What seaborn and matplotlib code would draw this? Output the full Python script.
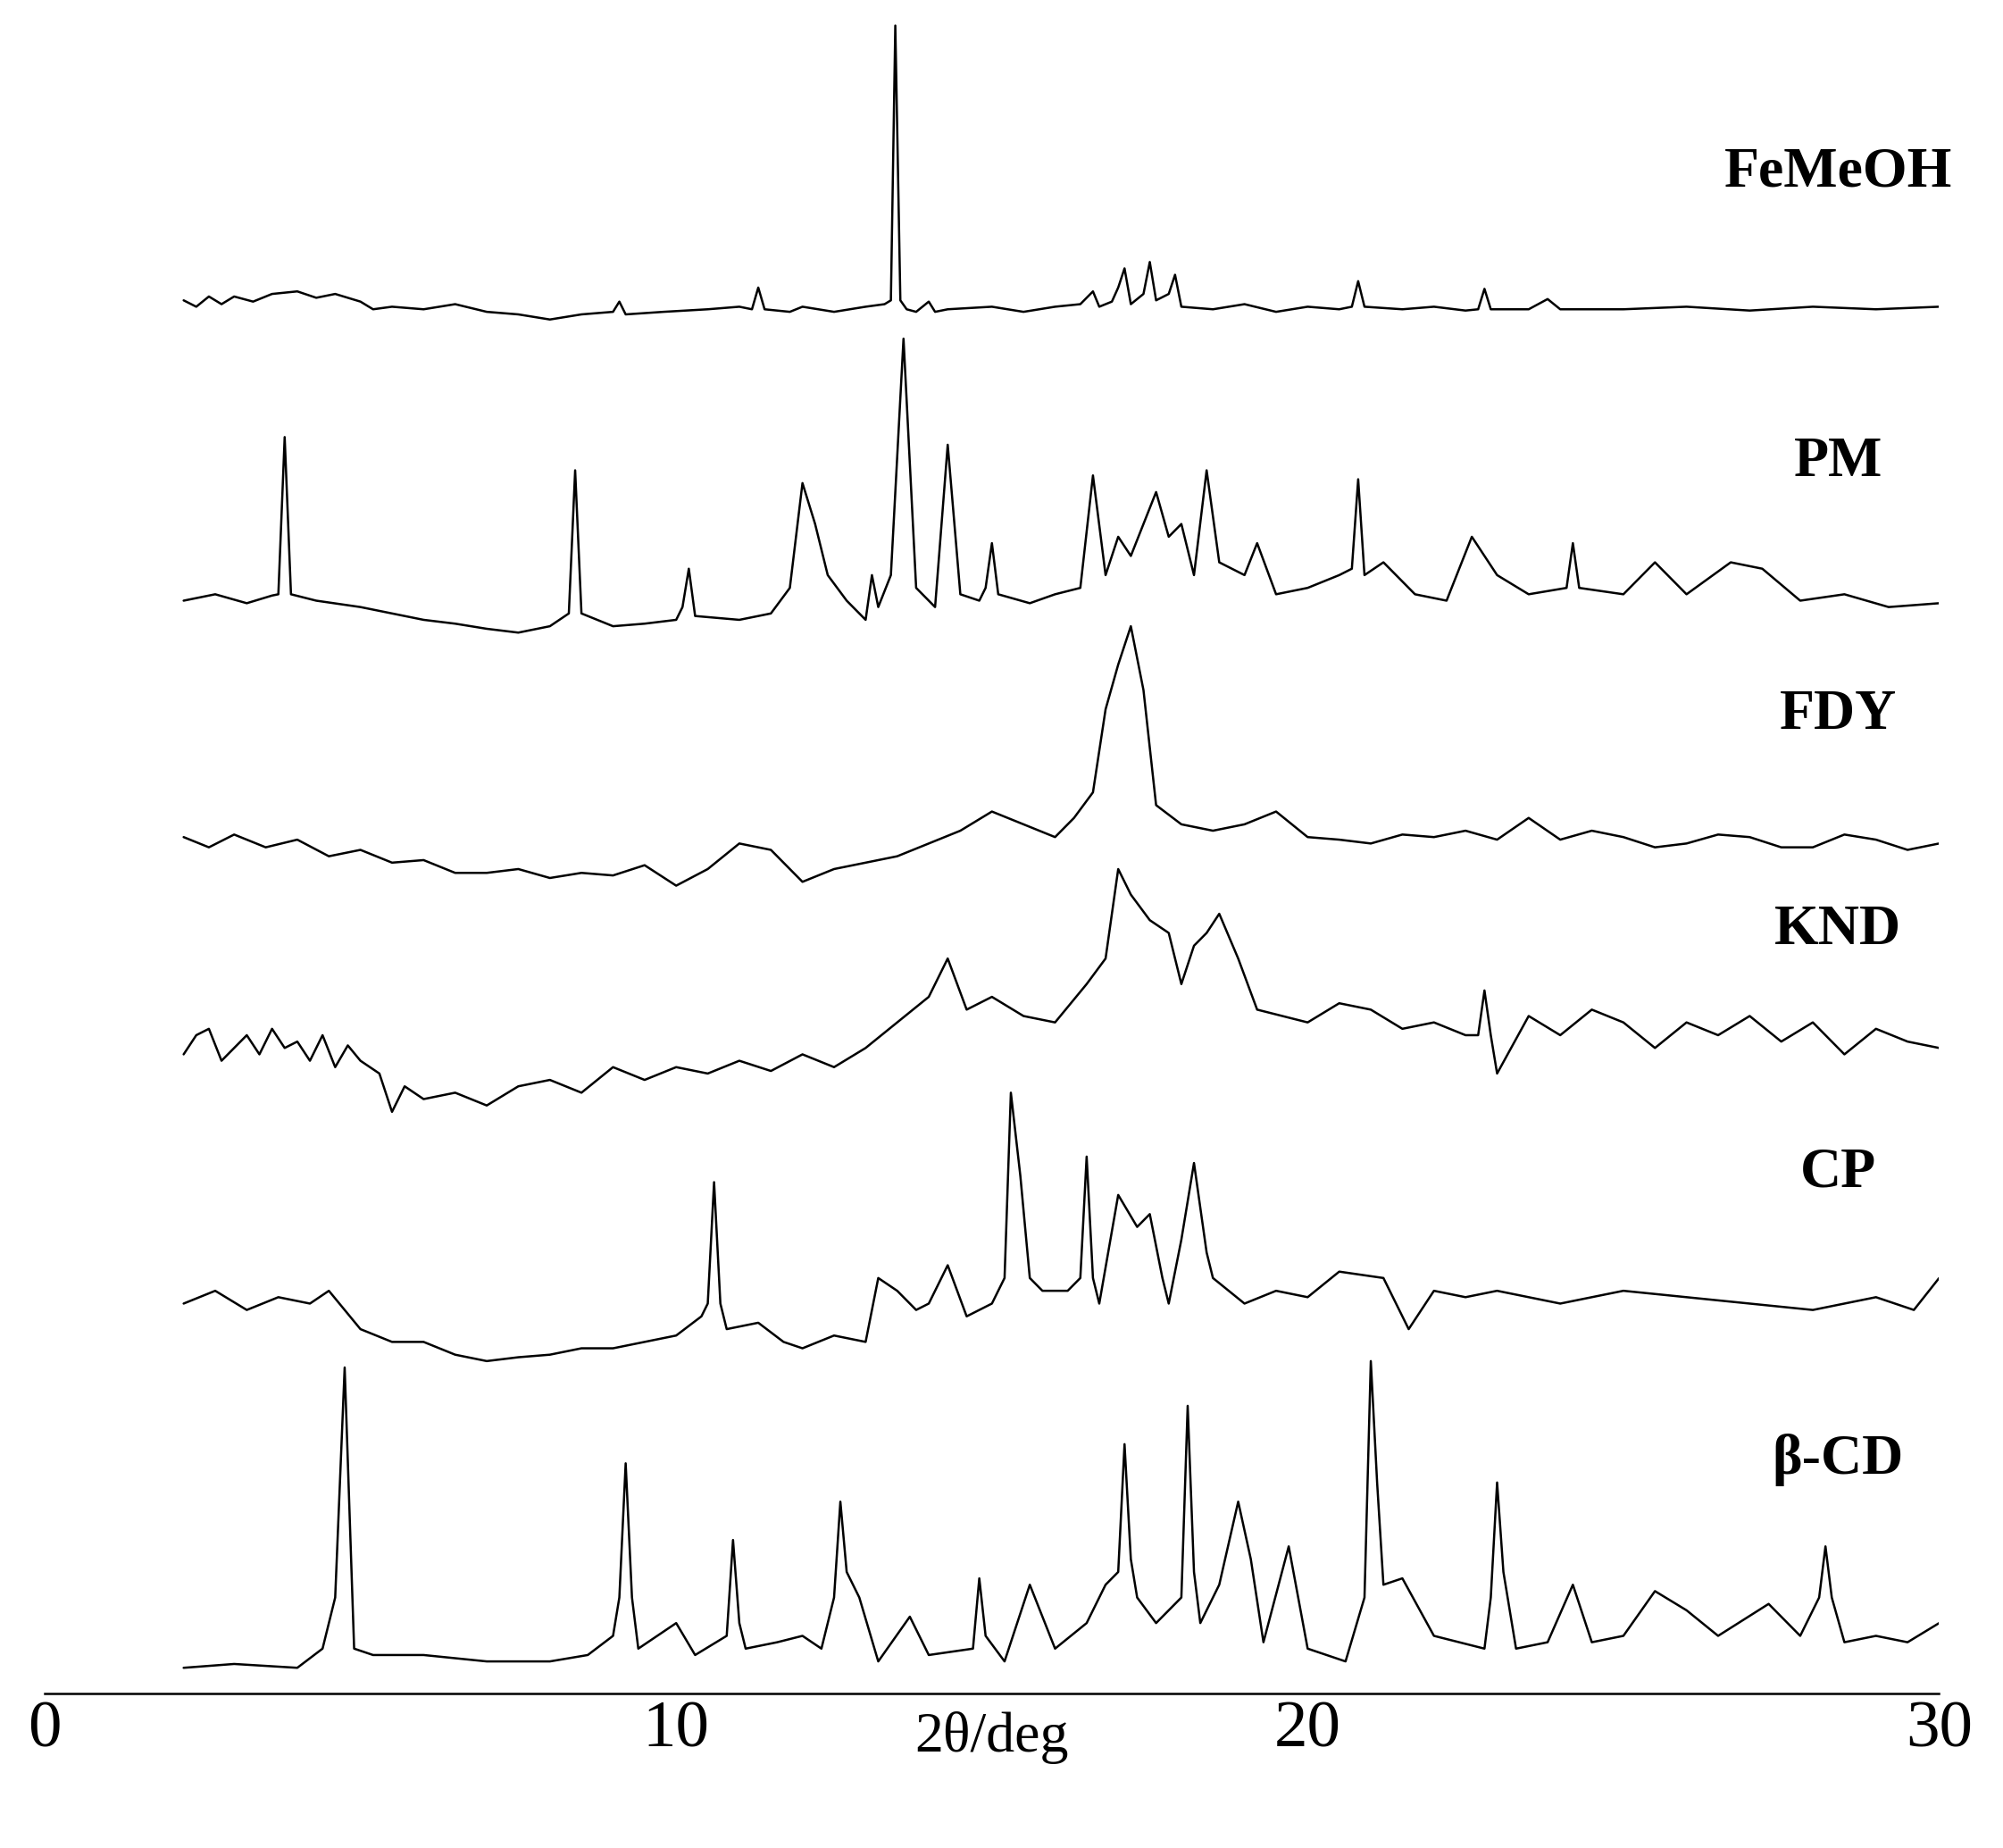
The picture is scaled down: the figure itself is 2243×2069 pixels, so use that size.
import numpy as np
import pandas as pd
import matplotlib
matplotlib.use("Agg")
import matplotlib.pyplot as plt
import seaborn as sns

# Trace data: 2-theta (deg) and height above each trace's baseline
names = ["FeMeOH", "PM", "FDY", "KND", "CP", "β-CD"]

feme_x = [2.2, 2.4, 2.6, 2.8, 3.0, 3.3, 3.6, 4.0, 4.3, 4.6, 5.0, 5.2, 5.5, 6.0, 6.5, 7.0, 7.5, 8.0, 8.5,
          9.0, 9.1, 9.2, 9.8, 10.5, 11.0, 11.2, 11.3, 11.4, 11.8, 12.0, 12.5, 13.0, 13.3, 13.4, 13.47, 13.55,
          13.65, 13.8, 14.0, 14.1, 14.3, 15.0, 15.5, 16.0, 16.4, 16.6, 16.7, 16.9, 17.0, 17.1, 17.2, 17.4,
          17.5, 17.6, 17.8, 17.9, 18.0, 18.5, 19.0, 19.5, 20.0, 20.5, 20.7, 20.8, 20.9, 21.5, 22.0, 22.5,
          22.7, 22.8, 22.9, 23.5, 23.8, 24.0, 25.0, 26.0, 27.0, 28.0, 29.0, 30.0]
feme_y = [15, 10, 18, 12, 18, 14, 20, 22, 17, 20, 14, 8, 10, 8, 12, 6, 4, 0, 4,
          6, 14, 4, 6, 8, 10, 8, 25, 8, 6, 10, 6, 10, 12, 15, 230, 15,
          8, 6, 14, 6, 8, 10, 6, 10, 12, 22, 10, 14, 25, 40, 12, 20,
          45, 15, 20, 35, 10, 8, 12, 6, 10, 8, 10, 30, 10, 8, 10, 7,
          8, 24, 8, 8, 16, 8, 8, 10, 7, 10, 8, 10]

pm_x = [2.2, 2.7, 3.2, 3.6, 3.7, 3.8, 3.9, 4.3, 5.0, 5.5, 6.0, 6.5, 7.0, 7.5, 8.0, 8.3, 8.4, 8.5, 9.0, 9.5,
        10.0, 10.1, 10.2, 10.3, 11.0, 11.5, 11.8, 12.0, 12.2, 12.4, 12.7, 13.0, 13.1, 13.2, 13.4, 13.6, 13.8,
        14.0, 14.1, 14.3, 14.5, 14.8, 14.9, 15.0, 15.1, 15.6, 16.0, 16.4, 16.6, 16.8, 17.0, 17.2, 17.4,
        17.6, 17.8, 18.0, 18.2, 18.4, 18.6, 19.0, 19.2, 19.5, 20.0, 20.5, 20.7, 20.8, 20.9, 21.2, 21.7,
        22.2, 22.6, 23.0, 23.5, 24.1, 24.2, 24.3, 25.0, 25.5, 26.0, 26.7, 27.2, 27.8, 28.5, 29.2, 30.0]
pm_y = [10, 15, 8, 14, 15, 138, 15, 10, 5, 0, -5, -8, -12, -15, -10, 0, 112, 0, -10, -8,
        -5, 5, 35, -2, -5, 0, 20, 102, 70, 30, 10, -5, 30, 5, 30, 215, 20,
        10, 5, 132, 15, 10, 20, 55, 15, 8, 15, 20, 108, 30, 60, 45, 70,
        95, 60, 70, 30, 112, 40, 30, 55, 15, 20, 30, 35, 105, 30, 40, 15,
        10, 60, 30, 15, 20, 55, 20, 15, 40, 15, 40, 35, 10, 15, 5, 8]

fdy_x = [2.2, 2.6, 3.0, 3.5, 4.0, 4.5, 5.0, 5.5, 6.0, 6.5, 7.0, 7.5, 8.0, 8.5, 9.0, 9.5, 10.0, 10.5, 11.0,
         11.5, 12.0, 12.5, 13.0, 13.5, 14.0, 14.5, 15.0, 15.5, 16.0, 16.3, 16.6, 16.8, 17.0, 17.2, 17.4,
         17.6, 18.0, 18.5, 19.0, 19.5, 20.0, 20.5, 21.0, 21.5, 22.0, 22.5, 23.0, 23.5, 24.0, 24.5, 25.0,
         25.5, 26.0, 26.5, 27.0, 27.5, 28.0, 28.5, 29.0, 29.5, 30.0]
fdy_y = [10, 2, 12, 2, 8, -5, 0, -10, -8, -18, -18, -15, -22, -18, -20, -12, -28, -15, 5,
         0, -25, -15, -10, -5, 5, 15, 30, 20, 10, 25, 45, 110, 145, 175, 125,
         35, 20, 15, 20, 30, 10, 8, 5, 12, 10, 15, 8, 25, 8, 15, 10,
         2, 5, 12, 10, 2, 2, 12, 8, 0, 5]

knd_x = [2.2, 2.4, 2.6, 2.8, 3.0, 3.2, 3.4, 3.6, 3.8, 4.0, 4.2, 4.4, 4.6, 4.8, 5.0, 5.3, 5.5, 5.7, 6.0, 6.5,
         7.0, 7.5, 8.0, 8.5, 9.0, 9.5, 10.0, 10.5, 11.0, 11.5, 12.0, 12.5, 13.0, 13.5, 14.0, 14.3, 14.6,
         15.0, 15.5, 16.0, 16.5, 16.8, 17.0, 17.2, 17.5, 17.8, 18.0, 18.2, 18.4, 18.6, 18.9, 19.2, 19.6,
         20.0, 20.5, 21.0, 21.5, 22.0, 22.5, 22.7, 22.8, 22.9, 23.0, 23.5, 24.0, 24.5, 25.0, 25.5, 26.0,
         26.5, 27.0, 27.5, 28.0, 28.5, 29.0, 29.5, 30.0]
knd_y = [5, 20, 25, 0, 10, 20, 5, 25, 10, 15, 0, 20, -5, 12, 0, -10, -40, -20, -30, -25,
         -35, -20, -15, -25, -5, -15, -5, -10, 0, -8, 5, -5, 10, 30, 50, 80, 40,
         50, 35, 30, 60, 80, 150, 130, 110, 100, 60, 90, 100, 115, 80, 40, 35,
         30, 45, 40, 25, 30, 20, 20, 55, 20, -10, 35, 20, 40, 30, 10, 30,
         20, 35, 15, 30, 5, 25, 15, 10]

cp_x = [2.2, 2.7, 3.2, 3.7, 4.2, 4.5, 5.0, 5.5, 6.0, 6.5, 7.0, 7.5, 8.0, 8.5, 9.0, 9.5, 10.0, 10.4, 10.5, 10.6,
        10.7, 10.8, 11.3, 11.7, 12.0, 12.5, 13.0, 13.2, 13.5, 13.8, 14.0, 14.3, 14.6, 15.0, 15.2, 15.3, 15.45,
        15.6, 15.8, 16.2, 16.4, 16.5, 16.6, 16.7, 17.0, 17.3, 17.5, 17.7, 17.8, 18.0, 18.2, 18.4, 18.5, 19.0,
        19.5, 20.0, 20.5, 21.2, 21.6, 22.0, 22.5, 23.0, 24.0, 25.0, 26.0, 27.0, 28.0, 29.0, 29.6, 30.0]
cp_y = [20, 30, 15, 25, 20, 30, 0, -10, -10, -20, -25, -22, -20, -15, -15, -10, -5, 10, 20, 115,
        20, 0, 5, -10, -15, -5, -10, 40, 30, 15, 20, 50, 10, 20, 40, 185, 120,
        40, 30, 30, 40, 135, 40, 20, 105, 80, 90, 40, 20, 70, 130, 60, 40, 20,
        30, 25, 45, 40, 0, 30, 25, 30, 20, 30, 25, 20, 15, 25, 15, 40]

bcd_x = [2.2, 3.0, 4.0, 4.4, 4.6, 4.75, 4.9, 5.2, 6.0, 7.0, 8.0, 8.6, 9.0, 9.1, 9.2, 9.3, 9.4, 10.0, 10.3, 10.8,
         10.9, 11.0, 11.1, 11.6, 12.0, 12.3, 12.5, 12.6, 12.7, 12.9, 13.2, 13.7, 14.0, 14.7, 14.8, 14.9, 15.2,
         15.6, 16.0, 16.5, 16.8, 17.0, 17.1, 17.2, 17.3, 17.6, 18.0, 18.1, 18.2, 18.3, 18.6, 18.9, 19.1, 19.3,
         19.7, 20.0, 20.6, 20.9, 21.0, 21.1, 21.2, 21.5, 22.0, 22.8, 22.9, 23.0, 23.1, 23.3, 23.8, 24.2,
         24.5, 25.0, 25.5, 26.0, 26.5, 27.3, 27.8, 28.1, 28.2, 28.3, 28.5, 29.0, 29.5, 30.0]
bcd_y = [5, 8, 5, 20, 60, 240, 20, 15, 15, 10, 10, 15, 30, 60, 165, 60, 20, 40, 15, 30,
         105, 40, 20, 25, 30, 20, 60, 135, 80, 60, 10, 45, 15, 20, 75, 30, 10,
         70, 20, 40, 70, 80, 180, 90, 60, 40, 60, 210, 80, 40, 70, 135, 90, 25,
         100, 20, 10, 60, 245, 150, 70, 75, 30, 20, 60, 150, 80, 20, 25, 70,
         25, 30, 65, 50, 30, 55, 30, 60, 100, 60, 25, 30, 25, 40]

# baseline of each trace in the picture (image pixel rows of the displayed 1568-wide figure)
baselines = [250, 480, 665, 830, 1040, 1310]
label_rows = [135, 362, 560, 728, 918, 1142]

traces_x = [feme_x, pm_x, fdy_x, knd_x, cp_x, bcd_x]
traces_y = [feme_y, pm_y, fdy_y, knd_y, cp_y, bcd_y]

sns.set_style("white")
plt.rcParams["font.family"] = ["Liberation Serif", "DejaVu Serif"]
plt.rcParams["text.color"] = "black"
plt.rcParams["xtick.color"] = "black"
plt.rcParams["axes.labelcolor"] = "black"

fig = plt.figure(figsize=(22.43, 20.69), dpi=100)
ax = fig.add_axes([35 / 1568, 1 - 1325 / 1446, (1518 - 35) / 1568, 1325 / 1446])

frames = []
for name, xs, ys, base in zip(names, traces_x, traces_y, baselines):
    frames.append(pd.DataFrame({"theta": xs, "y": [-(base - v) for v in ys], "sample": name}))
df = pd.concat(frames, ignore_index=True)

for name in names:
    sub = df[df["sample"] == name]
    sns.lineplot(data=sub, x="theta", y="y", ax=ax, color="black", lw=1.8,
                 estimator=None, sort=False)

for name, row in zip(names, label_rows):
    ax.text(28.4, -row, name, fontsize=46, fontweight="bold", ha="center", va="center",
            color="black")

ax.set_xlim(0, 30)
ax.set_ylim(-1325, 0)
for s in ["left", "top", "right"]:
    ax.spines[s].set_visible(False)
ax.spines["bottom"].set_linewidth(1.8)
ax.spines["bottom"].set_color("black")
ax.set_yticks([])
ax.set_xticks([0, 10, 20, 30])
ax.tick_params(axis="x", direction="in", length=16, width=1.8, labelsize=54, pad=6,
               colors="black")
ax.set_xlabel("2θ/deg", fontsize=46, labelpad=-40)
ax.set_ylabel("")

fig.savefig("out.png", dpi=100)
